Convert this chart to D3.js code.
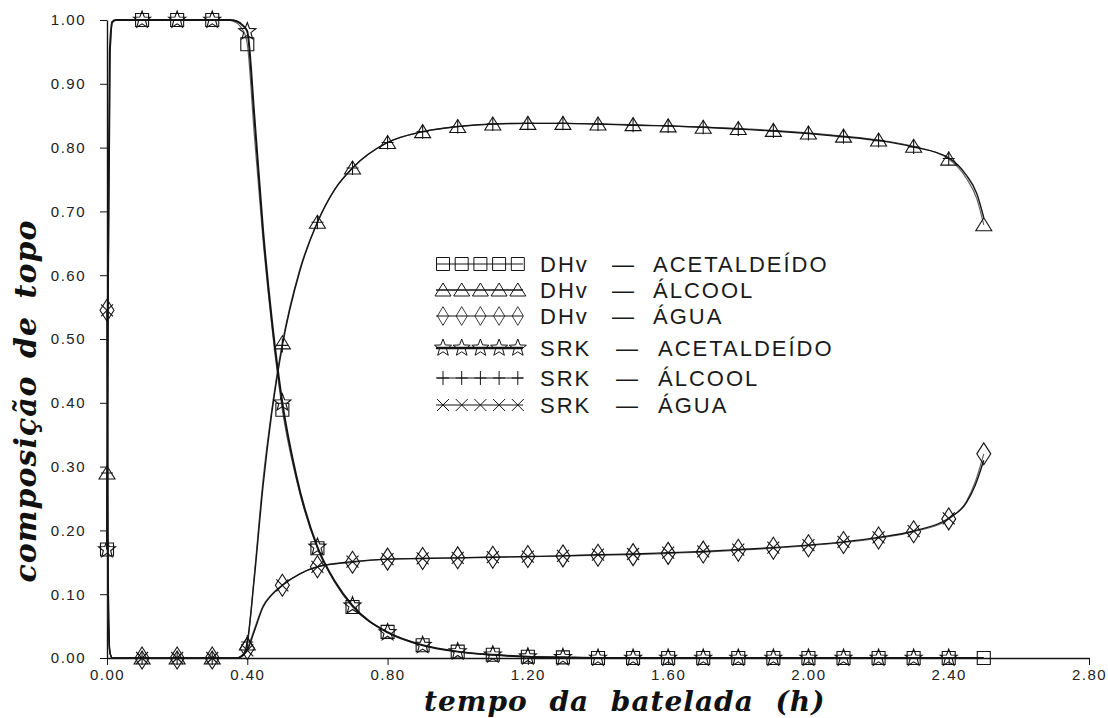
<!DOCTYPE html>
<html>
<head>
<meta charset="utf-8">
<script src="https://cdn.jsdelivr.net/npm/d3@7/dist/d3.min.js"></script>
<style>
  html, body { margin: 0; padding: 0; background: #fff; }
  svg { display: block; }
</style>
</head>
<body>
<svg id="chart" width="1108" height="718"></svg>
<script>
// ---- data -----------------------------------------------------------------
// sample times (h) where the markers sit
const markerTimes = [0, 0.1, 0.2, 0.3, 0.4, 0.5, 0.6, 0.7, 0.8, 0.9, 1.0, 1.1, 1.2,
  1.3, 1.4, 1.5, 1.6, 1.7, 1.8, 1.9, 2.0, 2.1, 2.2, 2.3, 2.4, 2.5];

// DHv model, marker values
const dhvAcetaldeido = [0.17, 1.00, 1.00, 1.00, 0.962, 0.389, 0.172, 0.080, 0.041, 0.020,
  0.010, 0.005, 0.002, 0.001, 0, 0, 0, 0, 0, 0, 0, 0, 0, 0, 0, 0];
const dhvAlcool = [0.29, 0, 0, 0, 0.022, 0.494, 0.683, 0.768, 0.808, 0.825, 0.833, 0.837,
  0.838, 0.838, 0.837, 0.836, 0.834, 0.832, 0.830, 0.827, 0.823, 0.818, 0.812, 0.802, 0.782, 0.679];
const dhvAgua = [0.545, 0, 0, 0, 0.015, 0.114, 0.143, 0.150, 0.155, 0.156, 0.157, 0.158,
  0.159, 0.160, 0.161, 0.162, 0.164, 0.166, 0.169, 0.172, 0.176, 0.181, 0.188, 0.198, 0.218, 0.320];

// SRK model, marker values (0 .. 2.4 h)
const srkAcetaldeido = [0.17, 1.00, 1.00, 1.00, 0.982, 0.400, 0.174, 0.082, 0.040, 0.020,
  0.010, 0.005, 0.002, 0.001, 0, 0, 0, 0, 0, 0, 0, 0, 0, 0, 0];
const srkAlcool = [0.29, 0, 0, 0, 0.025, 0.490, 0.683, 0.768, 0.808, 0.825, 0.833, 0.837,
  0.838, 0.838, 0.837, 0.835, 0.834, 0.832, 0.829, 0.826, 0.822, 0.817, 0.811, 0.801, 0.783];
const srkAgua = [0.545, 0, 0, 0, 0.012, 0.114, 0.143, 0.151, 0.155, 0.156, 0.157, 0.158,
  0.159, 0.160, 0.162, 0.163, 0.165, 0.167, 0.170, 0.173, 0.177, 0.182, 0.189, 0.199, 0.219];

// continuous model curves [t, composition]
const dhvAcetaldeidoCurve = [[0,0.17],[0.003,0.55],[0.008,0.93],[0.015,0.995],[0.025,1.0],
  [0.34,1.0],[0.36,0.998],[0.38,0.99],[0.395,0.975],[0.40,0.962],[0.42,0.82],[0.445,0.655],
  [0.47,0.52],[0.50,0.389],[0.54,0.28],[0.60,0.172],[0.65,0.118],[0.70,0.080],[0.80,0.041],
  [0.90,0.020],[1.00,0.010],[1.10,0.005],[1.20,0.002],[1.30,0.001],[1.40,0],[2.50,0]];
const srkAcetaldeidoCurve = [[0,0.17],[0.003,0.6],[0.008,0.95],[0.015,0.997],[0.025,1.0],
  [0.35,1.0],[0.37,0.998],[0.39,0.99],[0.40,0.982],[0.42,0.85],[0.445,0.67],[0.47,0.53],
  [0.50,0.40],[0.54,0.285],[0.60,0.174],[0.65,0.12],[0.70,0.082],[0.80,0.040],[0.90,0.020],
  [1.00,0.010],[1.10,0.005],[1.20,0.002],[1.30,0.001],[1.40,0],[2.50,0]];
const dhvAlcoolCurve = [[0,0.29],[0.003,0.08],[0.008,0.01],[0.015,0],[0.37,0],[0.385,0.004],
  [0.395,0.012],[0.40,0.022],[0.42,0.13],[0.445,0.28],[0.47,0.39],[0.50,0.494],[0.55,0.61],
  [0.60,0.683],[0.65,0.735],[0.70,0.768],[0.80,0.808],[0.90,0.825],[1.00,0.833],[1.10,0.837],
  [1.20,0.838],[1.30,0.838],[1.40,0.837],[1.50,0.836],[1.60,0.834],[1.70,0.832],[1.80,0.830],
  [1.90,0.827],[2.00,0.823],[2.10,0.818],[2.20,0.812],[2.30,0.802],[2.40,0.782],[2.45,0.752],
  [2.48,0.72],[2.50,0.679]];
const srkAlcoolCurve = [[0,0.29],[0.003,0.08],[0.008,0.01],[0.015,0],[0.372,0],[0.388,0.005],
  [0.40,0.025],[0.42,0.125],[0.445,0.27],[0.47,0.385],[0.50,0.490],[0.55,0.607],[0.60,0.683],
  [0.65,0.735],[0.70,0.768],[0.80,0.808],[0.90,0.825],[1.00,0.833],[1.10,0.837],[1.20,0.838],
  [1.30,0.838],[1.40,0.837],[1.50,0.835],[1.60,0.834],[1.70,0.832],[1.80,0.829],[1.90,0.826],
  [2.00,0.822],[2.10,0.817],[2.20,0.811],[2.30,0.801],[2.40,0.784],[2.45,0.757],[2.48,0.728],
  [2.50,0.69]];
const dhvAguaCurve = [[0,0.545],[0.003,0.15],[0.008,0.01],[0.015,0],[0.37,0],[0.385,0.004],
  [0.40,0.015],[0.42,0.045],[0.445,0.082],[0.47,0.100],[0.50,0.114],[0.55,0.132],[0.60,0.143],
  [0.70,0.150],[0.80,0.155],[0.90,0.156],[1.00,0.157],[1.10,0.158],[1.20,0.159],[1.30,0.160],
  [1.40,0.161],[1.50,0.162],[1.60,0.164],[1.70,0.166],[1.80,0.169],[1.90,0.172],[2.00,0.176],
  [2.10,0.181],[2.20,0.188],[2.30,0.198],[2.40,0.218],[2.45,0.245],[2.475,0.275],[2.50,0.320]];
const srkAguaCurve = [[0,0.545],[0.003,0.15],[0.008,0.01],[0.015,0],[0.372,0],[0.388,0.004],
  [0.40,0.012],[0.42,0.042],[0.445,0.080],[0.47,0.099],[0.50,0.114],[0.55,0.132],[0.60,0.143],
  [0.70,0.151],[0.80,0.155],[0.90,0.156],[1.00,0.157],[1.10,0.158],[1.20,0.159],[1.30,0.160],
  [1.40,0.162],[1.50,0.163],[1.60,0.165],[1.70,0.167],[1.80,0.170],[1.90,0.173],[2.00,0.177],
  [2.10,0.182],[2.20,0.189],[2.30,0.199],[2.40,0.219],[2.45,0.243],[2.475,0.27],[2.50,0.31]];

// axis ticks
const xTicks = [0, 0.4, 0.8, 1.2, 1.6, 2.0, 2.4, 2.8];
const yTicks = [0, 0.1, 0.2, 0.3, 0.4, 0.5, 0.6, 0.7, 0.8, 0.9, 1.0];

// legend entries
const legendModels = ["DHv", "DHv", "DHv", "SRK", "SRK", "SRK"];
const legendComponents = ["ACETALDEÍDO", "ÁLCOOL", "ÁGUA", "ACETALDEÍDO", "ÁLCOOL", "ÁGUA"];

// ---- layout ---------------------------------------------------------------
const svg = d3.select("#chart");
const x = d3.scaleLinear().domain([0, 2.8]).range([107, 1089]);
const y = d3.scaleLinear().domain([0, 1]).range([658, 20]);
const ink = "#141414";

// marker outlines, centred on the origin
const markerPaths = {
  square: "M-6.5,-6.5H6.5V6.5H-6.5Z",
  triangle: "M0,-7L8,6H-8Z",
  diamond: "M0,-11L7,0L0,11L-7,0Z",
  star: (() => {
    const pts = [];
    for (let i = 0; i < 10; i++) {
      const r = i % 2 ? 3.8 : 9;
      const a = -Math.PI / 2 + i * Math.PI / 5;
      pts.push([r * Math.cos(a), r * Math.sin(a)]);
    }
    return "M" + pts.map(p => p[0].toFixed(2) + "," + p[1].toFixed(2)).join("L") + "Z";
  })(),
  plus: "M0,-7V7M-6,0H6",
  cross: "M-6,-6L6,6M-6,6L6,-6"
};

// ---- axes -----------------------------------------------------------------
const fmt = d3.format(".2f");
const tickFont = "'Liberation Sans', Arial, sans-serif";

const gx = svg.append("g").attr("transform", `translate(0,${y(0)})`);
gx.call(d3.axisBottom(x).tickValues(d3.range(0, 2.8001, 0.04)).tickSize(4).tickFormat(""));
gx.call(d3.axisBottom(x).tickValues(xTicks).tickSizeInner(7).tickSizeOuter(0)
  .tickPadding(4).tickFormat(fmt));

const gy = svg.append("g").attr("transform", `translate(${x(0)},0)`);
gy.call(d3.axisLeft(y).tickValues(d3.range(0, 1.0001, 0.02)).tickSize(4).tickFormat(""));
gy.call(d3.axisLeft(y).tickValues(yTicks).tickSizeInner(7).tickSizeOuter(0)
  .tickPadding(14).tickFormat(fmt));

svg.selectAll(".domain").attr("stroke", ink).attr("stroke-width", 1.4);
svg.selectAll(".tick line").attr("stroke", ink).attr("stroke-width", 1);
svg.selectAll(".tick text")
  .attr("fill", "#222")
  .style("font-family", tickFont)
  .style("font-size", "15px")
  .style("letter-spacing", "1.5px");

// axis titles
svg.append("text")
  .attr("x", 424).attr("y", 711)
  .attr("fill", "#111")
  .style("font-family", "'DejaVu Serif', serif")
  .style("font-style", "italic").style("font-weight", "bold")
  .style("font-size", "28px")
  .style("letter-spacing", "1px")
  .style("word-spacing", "11px")
  .text("tempo da batelada (h)");

svg.append("text")
  .attr("transform", "translate(36,401) rotate(-90)")
  .attr("text-anchor", "middle")
  .attr("fill", "#111")
  .style("font-family", "'DejaVu Serif', serif")
  .style("font-style", "italic").style("font-weight", "bold")
  .style("font-size", "30px")
  .style("letter-spacing", "1px")
  .style("word-spacing", "6px")
  .text("composição de topo");

// ---- curves ---------------------------------------------------------------
const line = d3.line().x(d => x(d[0])).y(d => y(d[1])).curve(d3.curveMonotoneX);
const curves = [
  { data: dhvAcetaldeidoCurve, color: "#666", width: 1.2 },
  { data: dhvAlcoolCurve, color: "#666", width: 1.2 },
  { data: dhvAguaCurve, color: "#666", width: 1.2 },
  { data: srkAcetaldeidoCurve, color: ink, width: 2.0 },
  { data: srkAlcoolCurve, color: ink, width: 1.4 },
  { data: srkAguaCurve, color: ink, width: 1.4 }
];
svg.append("g").selectAll("path").data(curves).join("path")
  .attr("d", d => line(d.data))
  .attr("fill", "none")
  .attr("stroke", d => d.color)
  .attr("stroke-width", d => d.width);

// ---- markers --------------------------------------------------------------
const markerSeries = [
  { values: dhvAcetaldeido, shape: "square" },
  { values: dhvAlcool, shape: "triangle" },
  { values: dhvAgua, shape: "diamond" },
  { values: srkAcetaldeido, shape: "star" },
  { values: srkAlcool, shape: "plus" },
  { values: srkAgua, shape: "cross" }
];
const gm = svg.append("g");
markerSeries.forEach(s => {
  gm.append("g").selectAll("path")
    .data(s.values.map((v, i) => [markerTimes[i], v]))
    .join("path")
    .attr("transform", d => `translate(${x(d[0])},${y(d[1])})`)
    .attr("d", markerPaths[s.shape])
    .attr("fill", "none")
    .attr("stroke", ink)
    .attr("stroke-width", 1.1);
});

// ---- legend ---------------------------------------------------------------
const legendShapes = ["square", "triangle", "diamond", "star", "plus", "cross"];
const legendRows = [264, 290, 316, 348, 378, 405];
const legendLineWidths = [1, 1.4, 1, 2.4, 1, 1];
const lg = svg.append("g");
legendComponents.forEach((name, i) => {
  const row = lg.append("g").attr("transform", `translate(0,${legendRows[i]})`);
  row.append("line").attr("x1", 436).attr("x2", 523).attr("y1", 0).attr("y2", 0)
    .attr("stroke", ink).attr("stroke-width", legendLineWidths[i]);
  for (let k = 0; k < 5; k++) {
    row.append("path")
      .attr("transform", `translate(${443 + k * 18.7},0)${legendShapes[i] === "diamond" ? " scale(0.8,0.85)" : ""}`)
      .attr("d", markerPaths[legendShapes[i]])
      .attr("fill", "none").attr("stroke", ink).attr("stroke-width", 1);
  }
  const tx = row.append("text").attr("y", 8)
    .attr("fill", "#1a1a1a")
    .style("font-family", tickFont)
    .style("font-size", "22px")
    .style("letter-spacing", "2px");
  tx.append("tspan").attr("x", 540).text(legendModels[i]);
  tx.append("tspan").attr("x", i < 3 ? 612 : 616).text("—");
  tx.append("tspan").attr("x", i < 3 ? 653 : 658).text(name);
});
</script>
</body>
</html>
